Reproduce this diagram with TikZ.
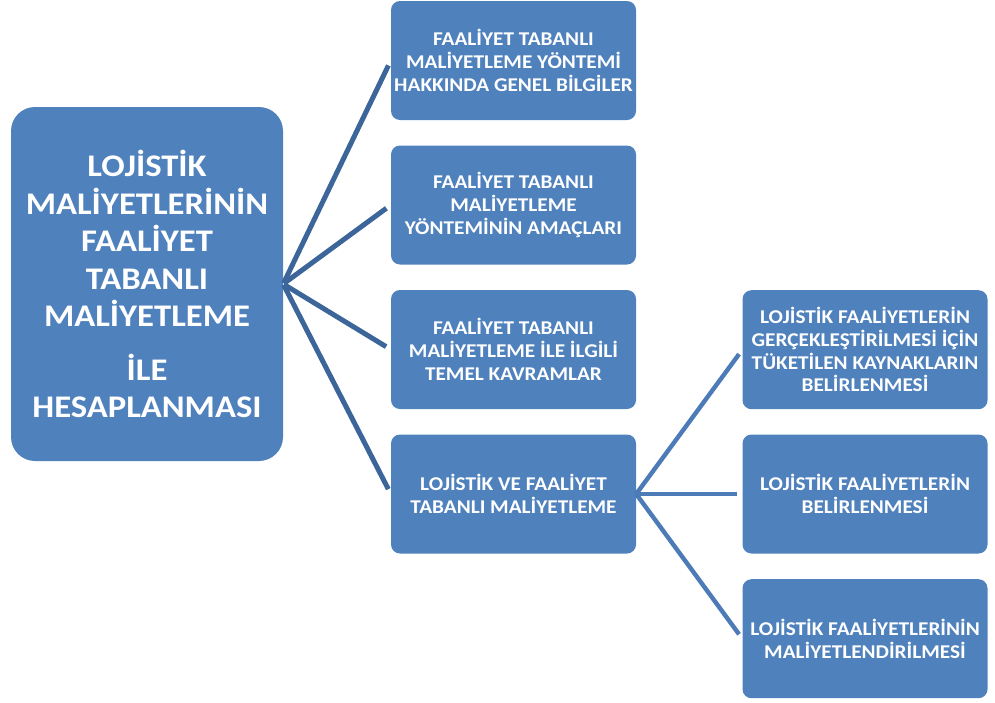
\documentclass[tikz,border=0pt]{standalone}
\usepackage{fontspec}
\setmainfont{Carlito}
\newfontfamily\boxfont[FakeStretch=1.09]{Carlito}
\newfontfamily\rootfont[FakeStretch=1.1]{Carlito}
\definecolor{boxblue}{HTML}{4F81BD}
\definecolor{rootlink}{RGB}{60,102,154}
\definecolor{sublink}{RGB}{76,123,183}
\begin{document}
\begin{tikzpicture}[x=1pt,y=-1pt,
  topicbox/.style={rectangle, rounded corners=9pt, fill=boxblue, text=white,
    minimum width=245pt, minimum height=119pt, inner sep=0pt, align=center,
    font=\boxfont\fontsize{19.5}{22.7}\selectfont\bfseries},
  rootbox/.style={rectangle, rounded corners=24pt, fill=boxblue, text=white,
    minimum width=272pt, minimum height=354pt, inner sep=0pt, align=center,
    font=\rootfont\fontsize{31.5}{37.5}\selectfont\bfseries},
  link/.style={line width=4.6pt, shorten >=5.5pt},
  rootlinkstyle/.style={link, draw=rootlink, line width=5pt, shorten <=1pt},
  sublinkstyle/.style={link, draw=sublink, line width=4.4pt}]
\useasboundingbox (0,0) rectangle (995,702);

% main topic
\node[rootbox] (root) at (147,284) {LOJİSTİK\\MALİYETLERİNİN\\FAALİYET\\TABANLI\\MALİYETLEME\\[16pt]İLE\\HESAPLANMASI};

% first level
\node[topicbox] (a) at (513.5,60.5) {FAALİYET TABANLI\\MALİYETLEME YÖNTEMİ\\HAKKINDA GENEL BİLGİLER};
\node[topicbox] (b) at (513.5,205) {FAALİYET TABANLI\\MALİYETLEME\\YÖNTEMİNİN AMAÇLARI};
\node[topicbox] (c) at (513.5,349.5) {FAALİYET TABANLI\\MALİYETLEME İLE İLGİLİ\\TEMEL KAVRAMLAR};
\node[topicbox] (d) at (513.5,494) {LOJİSTİK VE FAALİYET\\TABANLI MALİYETLEME};

% second level
\node[topicbox] (d1) at (865,349.7) {LOJİSTİK FAALİYETLERİN\\GERÇEKLEŞTİRİLMESİ İÇİN\\TÜKETİLEN KAYNAKLARIN\\BELİRLENMESİ};
\node[topicbox] (d2) at (865,494) {LOJİSTİK FAALİYETLERİN\\BELİRLENMESİ};
\node[topicbox] (d3) at (865,638.7) {LOJİSTİK FAALİYETLERİNİN\\MALİYETLENDİRİLMESİ};

% connectors
\foreach \t in {a,b,c,d} \draw[rootlinkstyle] (root.east) -- (\t.west);
\foreach \t in {d1,d2,d3} \draw[sublinkstyle] (d.east) -- (\t.west);
\end{tikzpicture}
\end{document}
